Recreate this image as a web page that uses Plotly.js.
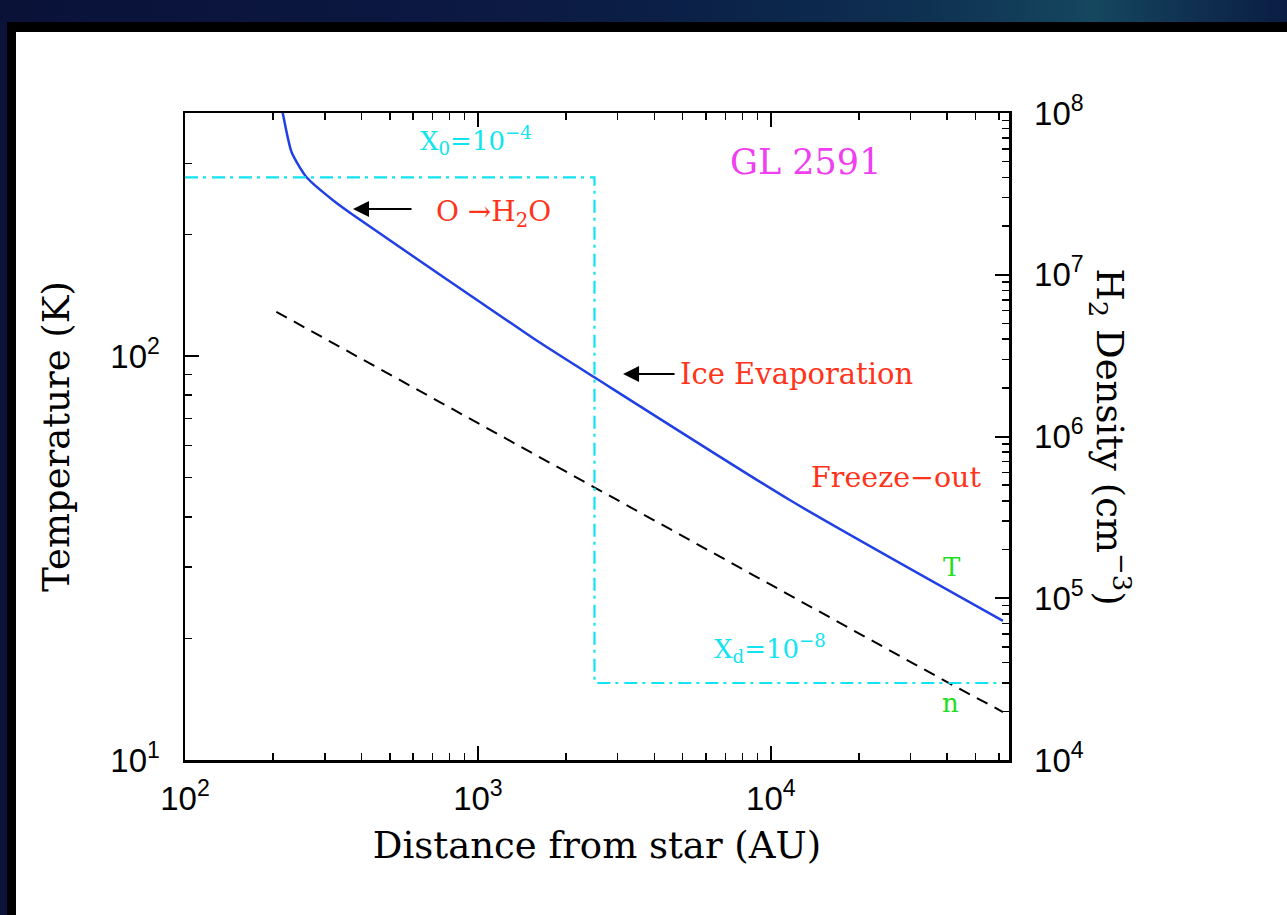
<!DOCTYPE html>
<html>
<head>
<meta charset="utf-8">
<script src="https://cdn.plot.ly/plotly-3.0.1.min.js"></script>
<style>
  html, body { margin:0; padding:0; width:1287px; height:915px; overflow:hidden; }
  body { background: linear-gradient(90deg, #0a1238 0%, #0c1842 35%, #0b2148 55%, #0e3152 72%, #15475f 85%, #0f2f50 93%, #0b1d44 100%); }
  #frame { position:absolute; left:7px; top:22px; width:1280px; height:893px; background:#000; }
  #plot { position:absolute; left:16px; top:32px; width:1271px; height:883px; background:#fff; }
</style>
</head>
<body>
<div id="frame"></div>
<div id="plot"></div>
<script>
// ---- data ----
// Temperature profile (blue solid, left axis)
const rT = [212, 215.5, 231, 260, 320, 375, 1540, 2490, 11600, 62000];
const T  = [424, 400, 320, 277, 243, 223.4, 110.8, 88.7, 44.0, 22.1];
// H2 density profile (black dashed, right axis)
const rN = [205, 500, 1000, 2500, 5000, 10000, 20000, 40000, 62000];
const nH2 = [5.9e6, 2.42e6, 1.21e6, 4.85e5, 2.42e5, 1.21e5, 6.05e4, 3.03e4, 1.98e4];
// Abundance step (cyan dash-dot)
const rX = [100, 2500, 2500, 65000];
const X  = [1e-4, 1e-4, 1e-8, 1e-8];
// tick labels
const xTickVals = [100, 1000, 10000];
const xTickText = ['10<sup>2</sup>', '10<sup>3</sup>', '10<sup>4</sup>'];
const yTickVals = [10, 100];
const yTickText = ['10<sup>1</sup>', '10<sup>2</sup>'];
const y2TickVals = [1e4, 1e5, 1e6, 1e7, 1e8];
const y2TickText = ['10<sup>4</sup>', '10<sup>5</sup>', '10<sup>6</sup>', '10<sup>7</sup>', '10<sup>8</sup>'];

function minorVals(d0, d1) {
  const v = [];
  for (let d = d0; d < d1; d++) for (let k = 2; k <= 9; k++) v.push(k * Math.pow(10, d));
  return v;
}

const serif = 'DejaVu Serif';
const sans = 'Liberation Sans';
const red = '#ff3319', cyan = '#10e4f0', green = '#22dd22', magenta = '#f03ff0';

const traces = [
  { x: rX, y: X, yaxis: 'y3', mode: 'lines', line: { color: cyan, width: 2.2, dash: '13px,5px,3px,6px' }, hoverinfo: 'skip' },
  { x: rN, y: nH2, yaxis: 'y2', mode: 'lines', line: { color: 'black', width: 2, dash: '12px,8px' } },
  { x: rT, y: T, yaxis: 'y', mode: 'lines', line: { color: '#2040e6', width: 2.5, shape: 'spline', smoothing: 0.6 } }
];

const tickFont = { family: sans, size: 33, color: 'black' };

function label(x, y, text, size, color, extra) {
  return Object.assign({ xref: 'paper', yref: 'paper', x: x, y: y, xanchor: 'center', yanchor: 'middle',
    showarrow: false, text: text, font: { family: serif, size: size, color: color } }, extra || {});
}

const layout = {
  width: 1271, height: 883,
  margin: { l: 169, r: 278, t: 81, b: 155 },
  paper_bgcolor: 'white', plot_bgcolor: 'white',
  showlegend: false,
  xaxis: {
    type: 'log', range: [2, 4.813],
    tickmode: 'array', tickvals: xTickVals, ticktext: xTickText,
    ticks: 'inside', ticklen: 14, tickwidth: 2, tickcolor: 'black',
    minor: { tickmode: 'array', tickvals: minorVals(2, 5), ticks: 'inside', ticklen: 7, tickwidth: 1.5, tickcolor: 'black' },
    showline: true, linewidth: 2.5, linecolor: 'black', mirror: 'ticks',
    showgrid: false, zeroline: false,
    tickfont: tickFont, ticklabelstandoff: 8,
    title: { text: 'Distance from star (AU)', font: { family: serif, size: 37, color: 'black' }, standoff: 16 }
  },
  yaxis: {
    type: 'log', range: [1, 2.6015],
    tickmode: 'array', tickvals: yTickVals, ticktext: yTickText,
    ticks: 'inside', ticklen: 14, tickwidth: 2, tickcolor: 'black',
    minor: { tickmode: 'array', tickvals: minorVals(1, 3), ticks: 'inside', ticklen: 7, tickwidth: 1.5, tickcolor: 'black' },
    showline: true, linewidth: 2.5, linecolor: 'black',
    showgrid: false, zeroline: false,
    tickfont: tickFont, ticklabelstandoff: 16,
    title: { text: 'Temperature (K)', font: { family: serif, size: 37, color: 'black' }, standoff: 30 }
  },
  yaxis2: {
    type: 'log', range: [4, 8], overlaying: 'y', side: 'right',
    tickmode: 'array', tickvals: y2TickVals, ticktext: y2TickText,
    ticks: 'inside', ticklen: 14, tickwidth: 2, tickcolor: 'black',
    minor: { tickmode: 'array', tickvals: minorVals(4, 8), ticks: 'inside', ticklen: 7, tickwidth: 1.5, tickcolor: 'black' },
    showline: true, linewidth: 2.5, linecolor: 'black',
    showgrid: false, zeroline: false,
    tickfont: tickFont, ticklabelstandoff: 16
  },
  yaxis3: {
    type: 'log', range: [-8.609, -3.491], overlaying: 'y', visible: false
  },
  annotations: [
    label(1.1226, 0.5, 'H<sub>2</sub> Density (cm<sup>−3</sup>)', 37, 'black', { textangle: 90 }),
    label(0.7536, 0.9243, 'GL 2591', 35, magenta),
    label(0.3532, 0.958, 'X<sub>0</sub>=10<sup>−4</sup>', 26, cyan),
    label(0.71, 0.172, 'X<sub>d</sub>=10<sup>−8</sup>', 26, cyan),
    label(0.3738, 0.845, 'O →H<sub>2</sub>O', 28, red),
    label(0.5983, 0.5966, 'Ice Evaporation', 29, red, { xanchor: 'left' }),
    label(0.8629, 0.4374, 'Freeze−out', 28.5, red),
    label(0.9308, 0.2983, 'T', 26, green),
    label(0.9284, 0.0881, 'n', 26, green),
    // arrows
    { xref: 'paper', yref: 'paper', x: 0.2039, y: 0.8516, ax: 60, ay: 0, text: '',
      showarrow: true, arrowhead: 2, arrowsize: 1.6, arrowwidth: 2, arrowcolor: 'black' },
    { xref: 'paper', yref: 'paper', x: 0.5316, y: 0.5966, ax: 53, ay: 0, text: '',
      showarrow: true, arrowhead: 2, arrowsize: 1.6, arrowwidth: 2, arrowcolor: 'black' }
  ]
};

Plotly.newPlot('plot', traces, layout, { staticPlot: true, displayModeBar: false });
</script>
</body>
</html>
